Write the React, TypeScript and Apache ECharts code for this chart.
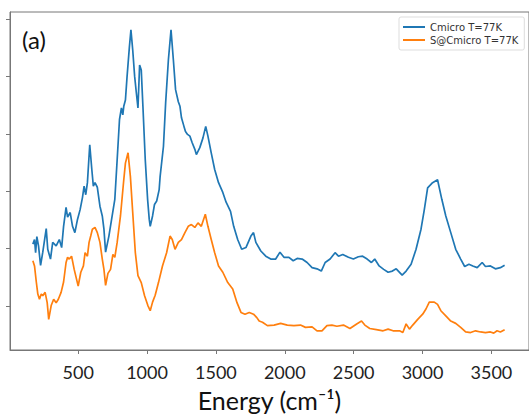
import React, { useEffect, useRef } from "react";
import * as echarts from "echarts";

// Cmicro T=77K (energy in cm^-1, intensity in arbitrary units)
const blueX = [171,183,191,200,212,227,243,268,279,299,315,340,363,380,394,412,423,442,459,476,495,514,531,543,555,567,584,599,610,622,639,658,675,687,699,723,754,766,783,800,814,824,831,843,855,872,883,896,910,922,934,946,958,970,987,1004,1016,1023,1040,1054,1070,1088,1095,1119,1135,1155,1174,1191,1207,1227,1239,1250,1268,1279,1294,1311,1327,1347,1358,1383,1406,1426,1442,1466,1491,1519,1550,1574,1606,1629,1658,1687,1718,1754,1773,1790,1826,1862,1898,1934,1965,1994,2030,2061,2090,2126,2162,2198,2234,2265,2293,2329,2365,2390,2421,2462,2498,2534,2565,2598,2629,2653,2685,2718,2750,2781,2809,2852,2881,2917,2953,2989,3013,3037,3073,3109,3140,3169,3205,3241,3277,3306,3337,3365,3397,3433,3457,3493,3529,3565,3596];
const blueY = [2.08,2.16,1.93,2.21,2.05,1.71,1.94,2.35,1.99,1.82,2.11,2.05,2.16,2.02,2.39,2.72,2.55,2.63,2.39,2.28,2.51,2.68,2.89,3.09,2.94,3.15,3.81,3.38,3.09,3.15,3.07,2.74,2.57,2.34,1.94,2.22,2.68,2.86,3.55,4.25,4.45,4.33,4.48,4.59,5.0,5.52,5.81,5.46,5.0,4.72,4.45,5.2,5.11,4.48,3.55,2.86,2.51,2.39,2.57,2.77,2.83,3.03,3.26,3.78,4.54,5.29,5.81,5.29,4.77,4.56,4.48,4.28,4.13,4.04,3.99,3.96,3.85,3.73,3.64,3.76,3.93,4.13,3.96,3.67,3.38,3.15,2.98,2.81,2.65,2.39,2.16,1.99,2.02,2.22,2.28,2.11,1.96,1.87,1.82,1.82,1.94,1.85,1.85,1.79,1.83,1.82,1.76,1.67,1.65,1.61,1.76,1.82,1.93,1.87,1.9,1.85,1.82,1.86,1.87,1.82,1.76,1.82,1.7,1.64,1.59,1.61,1.65,1.54,1.61,1.73,1.99,2.34,2.68,3.06,3.15,3.2,2.86,2.57,2.28,1.99,1.82,1.69,1.73,1.7,1.67,1.76,1.69,1.7,1.65,1.67,1.71];

// S@Cmicro T=77K
const orangeX = [171,183,196,207,219,232,243,260,275,286,304,322,340,356,376,394,412,423,435,452,471,491,500,519,538,550,567,579,591,603,622,639,658,675,687,699,716,735,752,766,783,807,831,843,862,879,896,915,934,958,982,1006,1023,1040,1059,1083,1112,1142,1167,1183,1203,1227,1250,1275,1299,1322,1347,1370,1394,1423,1442,1466,1491,1519,1550,1586,1622,1653,1682,1711,1742,1773,1797,1814,1838,1874,1922,1970,2018,2066,2114,2150,2198,2234,2270,2306,2342,2378,2426,2473,2522,2557,2581,2617,2665,2714,2750,2786,2833,2857,2881,2905,2929,2965,3001,3025,3049,3085,3109,3133,3169,3205,3241,3277,3313,3349,3385,3421,3457,3493,3517,3541,3565,3596];
const orangeY = [1.79,1.7,1.42,1.21,1.12,1.21,1.18,1.24,1.06,0.77,1.01,1.12,1.06,1.12,1.24,1.42,1.76,1.85,1.82,1.87,1.64,1.44,1.35,1.59,1.7,1.93,1.87,2.11,2.22,2.34,2.37,2.28,2.11,1.82,1.64,1.36,1.57,1.64,1.9,1.85,2.11,2.57,3.2,3.49,3.67,3.26,2.63,1.93,1.53,1.41,1.18,1.01,0.92,1.07,1.19,1.41,1.7,1.93,2.22,2.16,1.99,2.11,2.16,2.28,2.39,2.42,2.37,2.45,2.39,2.6,2.39,2.16,1.93,1.7,1.59,1.41,1.3,1.06,0.89,0.86,0.89,0.86,0.8,0.74,0.72,0.66,0.67,0.7,0.67,0.66,0.67,0.63,0.64,0.57,0.57,0.66,0.67,0.65,0.67,0.61,0.69,0.74,0.67,0.61,0.59,0.57,0.6,0.57,0.57,0.54,0.69,0.6,0.67,0.77,0.86,0.95,1.07,1.07,1.03,0.92,0.83,0.74,0.7,0.63,0.55,0.54,0.57,0.55,0.54,0.55,0.53,0.57,0.55,0.59];

const xTicks = [500, 1000, 1500, 2000, 2500, 3000, 3500];
const yTicks = [1, 2, 3, 4, 5, 6];
const seriesNames = ["Cmicro T=77K", "S@Cmicro T=77K"];
const panelLabel = "(a)";
const xAxisTitle = "Energy (cm\u207B\u00B9)";

export default function App() {
  const ref = useRef<HTMLDivElement>(null);
  useEffect(() => {
    if (!ref.current) return;
    const chart = echarts.init(ref.current, null, { renderer: "svg" });
    const blue = blueX.map((x, i) => [x, blueY[i]]);
    const orange = orangeX.map((x, i) => [x, orangeY[i]]);
    chart.setOption({
      animation: false,
      backgroundColor: "#ffffff",
      grid: { left: 10, top: 12, right: -5, bottom: 66, show: true, borderColor: "#777", borderWidth: 1 },
      legend: {
        left: 399,
        top: 17,
        orient: "vertical",
        icon: "rect",
        itemWidth: 22,
        itemHeight: 2,
        itemGap: 3,
        padding: [5, 6, 5, 4],
        borderColor: "#dddddd",
        borderWidth: 1,
        borderRadius: 2,
        backgroundColor: "#ffffff",
        textStyle: { fontFamily: "DejaVu Sans", fontSize: 10, color: "#333" },
        data: seriesNames,
      },
      xAxis: {
        type: "value",
        min: 5,
        max: 3773,
        splitLine: { show: false },
        axisLine: { show: true, onZero: false, lineStyle: { color: "#777" } },
        axisTick: { show: true, inside: false, length: 4, customValues: xTicks, lineStyle: { color: "#777" } },
        axisLabel: {
          customValues: xTicks,
          formatter: (v: number) => String(v),
          margin: 13,
          fontFamily: "Lato",
          fontSize: 18,
          color: "#222",
        },
        name: xAxisTitle,
        nameLocation: "middle",
        nameGap: 37,
        nameTextStyle: { fontFamily: "Lato", fontSize: 25, color: "#111" },
      },
      yAxis: {
        type: "value",
        min: 0.236,
        max: 6.122,
        splitLine: { show: false },
        axisLine: { show: true, onZero: false, lineStyle: { color: "#777" } },
        axisTick: { show: true, inside: false, length: 4, customValues: yTicks, lineStyle: { color: "#777" } },
        axisLabel: { show: false },
      },
      graphic: [
        {
          type: "text",
          left: 22,
          top: 27,
          style: { text: panelLabel, fontFamily: "Lato", fontSize: 24, fill: "#111" },
        },
      ],
      series: [
        {
          name: seriesNames[0],
          type: "line",
          data: blue,
          showSymbol: false,
          symbol: "none",
          lineStyle: { color: "#1f77b4", width: 1.7 },
          itemStyle: { color: "#1f77b4" },
        },
        {
          name: seriesNames[1],
          type: "line",
          data: orange,
          showSymbol: false,
          symbol: "none",
          lineStyle: { color: "#ff7f0e", width: 1.7 },
          itemStyle: { color: "#ff7f0e" },
        },
      ],
    });
    return () => chart.dispose();
  }, []);
  return (
    <div
      ref={ref}
      style={{ position: "fixed", left: 0, top: 0, width: 529, height: 417 }}
    />
  );
}
